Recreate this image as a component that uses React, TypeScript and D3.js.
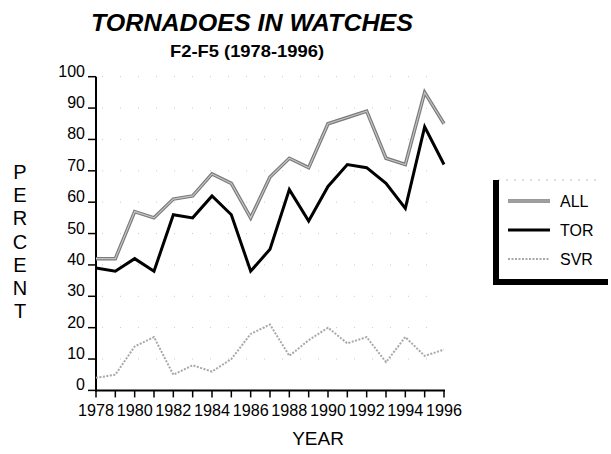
import React from 'react';
import * as d3 from 'd3';

const years = [1978, 1979, 1980, 1981, 1982, 1983, 1984, 1985, 1986, 1987, 1988, 1989, 1990, 1991, 1992, 1993, 1994, 1995, 1996];
const allValues = [42, 42, 57, 55, 61, 62, 69, 66, 55, 68, 74, 71, 85, 87, 89, 74, 72, 95, 85];
const torValues = [39, 38, 42, 38, 56, 55, 62, 56, 38, 45, 64, 54, 65, 72, 71, 66, 58, 84, 72];
const svrValues = [4, 5, 14, 17, 5, 8, 6, 10, 18, 21, 11, 16, 20, 15, 17, 9, 17, 11, 13];
const yTicks = [0, 10, 20, 30, 40, 50, 60, 70, 80, 90, 100];
const xLabels = [1978, 1980, 1982, 1984, 1986, 1988, 1990, 1992, 1994, 1996];
const legendNames = ['ALL', 'TOR', 'SVR'];
const yTitle = 'PERCENT';

const FONT = '"Liberation Sans", Arial, Helvetica, sans-serif';

const App: React.FC = () => {
  const width = 611;
  const height = 454;

  // plot area (axis lines sit at these edges)
  const x = d3.scaleLinear().domain([1978, 1996]).range([96, 444]);
  const y = d3.scaleLinear().domain([0, 100]).range([390.4, 76.7]);

  const line = d3.line<number>()
    .x((_, i) => x(years[i]))
    .y(d => y(d));

  return (
    <svg width={width} height={height} style={{ position: 'absolute', left: 0, top: 0, background: '#fff' }}
      fontFamily={FONT}>
      {/* titles */}
      <text x={91} y={30.5} fontSize={24} fontWeight="bold" fontStyle="italic" textLength={322}
        lengthAdjust="spacingAndGlyphs">TORNADOES IN WATCHES</text>
      <text x={170} y={57} fontSize={17} fontWeight="bold" textLength={154}
        lengthAdjust="spacingAndGlyphs">F2-F5 (1978-1996)</text>

      {/* faint dotted grid */}
      {yTicks.filter(t => t > 0).map(t => (
        <line key={'g' + t} x1={x(1978) + 6} x2={x(1996)} y1={y(t)} y2={y(t)}
          stroke="#c8c8c8" strokeWidth={1} strokeDasharray="1 17" />
      ))}

      {/* y axis */}
      <line x1={x(1978)} x2={x(1978)} y1={y(100)} y2={y(0) + 1} stroke="#000" strokeWidth={2} />
      {yTicks.map(t => (
        <g key={'y' + t}>
          <line x1={x(1978) - 8} x2={x(1978)} y1={y(t)} y2={y(t)} stroke="#000" strokeWidth={1.5} />
          <text x={85} y={y(t)} fontSize={16} textAnchor="end">{t}</text>
        </g>
      ))}

      {/* x axis */}
      <line x1={x(1978) - 1} x2={x(1996) + 1} y1={y(0)} y2={y(0)} stroke="#000" strokeWidth={2} />
      {years.map(yr => (
        <line key={'xt' + yr} x1={x(yr)} x2={x(yr)} y1={y(0)} y2={y(0) + 7} stroke="#000" strokeWidth={1.5} />
      ))}
      {xLabels.map(yr => (
        <text key={'xl' + yr} x={x(yr)} y={416} fontSize={16} textAnchor="middle"
          textLength={36} lengthAdjust="spacingAndGlyphs">{yr}</text>
      ))}

      {/* axis titles */}
      {yTitle.split('').map((ch, i) => (
        <text key={'p' + i} x={20} y={179 + i * 23.2} fontSize={20} textAnchor="middle">{ch}</text>
      ))}
      <text x={318} y={445} fontSize={19} textAnchor="middle">YEAR</text>

      {/* series */}
      <path d={line(svrValues) || ''} fill="none" stroke="#a8a8a8" strokeWidth={2} strokeDasharray="2 1.5" />
      <path d={line(allValues) || ''} fill="none" stroke="#7a7a7a" strokeWidth={3.5} />
      <path d={line(allValues) || ''} fill="none" stroke="#c4c4c4" strokeWidth={1.2} />
      <path d={line(torValues) || ''} fill="none" stroke="#000" strokeWidth={3} />

      {/* legend */}
      <line x1={498} x2={600} y1={180} y2={180} stroke="#bbb" strokeWidth={1} strokeDasharray="2 6" />
      <rect x={493} y={180} width={6} height={105} fill="#000" />
      <rect x={493} y={279} width={115} height={6} fill="#000" />
      {legendNames.map((name, i) => {
        const ly = 201 + i * 29;
        return (
          <g key={name}>
            {name === 'ALL' && (
              <>
                <line x1={508} x2={550} y1={ly} y2={ly} stroke="#7a7a7a" strokeWidth={3.5} />
                <line x1={508} x2={550} y1={ly} y2={ly} stroke="#c4c4c4" strokeWidth={1.2} />
              </>
            )}
            {name === 'TOR' && <line x1={508} x2={550} y1={ly} y2={ly} stroke="#000" strokeWidth={3} />}
            {name === 'SVR' && (
              <line x1={508} x2={550} y1={ly} y2={ly} stroke="#a8a8a8" strokeWidth={2} strokeDasharray="2 1.5" />
            )}
            <text x={560} y={ly + 6} fontSize={16}>{name}</text>
          </g>
        );
      })}
    </svg>
  );
};

export default App;
